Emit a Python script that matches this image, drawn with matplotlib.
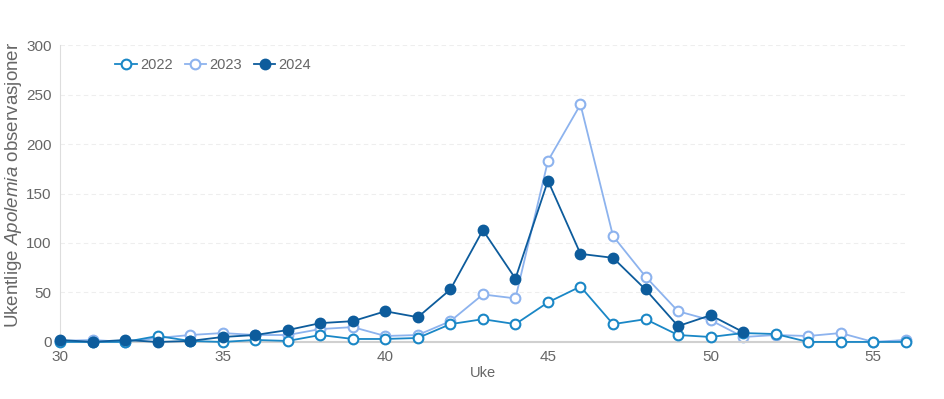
import matplotlib
matplotlib.use("Agg")
import matplotlib.pyplot as plt

plt.rcParams["font.family"] = ["Liberation Sans", "DejaVu Sans"]
plt.rcParams["mathtext.fontset"] = "custom"
plt.rcParams["mathtext.rm"] = "Liberation Sans"
plt.rcParams["mathtext.it"] = "Liberation Sans:italic"

weeks = list(range(30, 57))
y2022 = [0, 0, 0, 6, 1, 0, 2, 1, 7, 3, 3, 4, 18, 23, 18, 40, 56, 18, 23, 7, 5, 9, 8, 0, 0, 0, 0]
y2023 = [1, 2, 0, 4, 7, 9, 7, 7, 13, 15, 6, 7, 21, 48, 44, 183, 240, 107, 66, 31, 22, 5, 7, 6, 9, 0, 2]
weeks_2024 = list(range(30, 52))
y2024 = [2, 0, 2, 0, 1, 5, 7, 12, 19, 21, 31, 25, 53, 113, 64, 163, 89, 85, 53, 16, 27, 10]

C2022 = "#1a87c6"
C2023 = "#8db3ee"
C2024 = "#0d5c9c"
GREY = "#666666"

fig = plt.figure(figsize=(9.45, 3.99), dpi=100)
ax = fig.add_axes([0.0635, 0.143, 0.895, 0.744])

style = dict(lw=1.3, marker="o", ms=7, mew=1.5, clip_on=False)
ax.plot(weeks, y2022, color=C2022, mfc="white", mec=C2022, label="2022",
        zorder=3, **style)
ax.plot(weeks, y2023, color=C2023, mfc="white", mec=C2023, label="2023",
        zorder=2, **style)
ax.plot(weeks_2024, y2024, color=C2024, mfc=C2024, mec=C2024, label="2024",
        zorder=4, **style)

ax.set_xlim(30, 56)
ax.set_ylim(0, 300)
ax.set_xticks([30, 35, 40, 45, 50, 55])
ax.set_yticks(range(0, 301, 50))
ax.tick_params(length=0, labelsize=11, colors=GREY, pad=6)
ax.grid(axis="y", color="#eeeeee", lw=0.8, ls=(0, (4, 3)))
ax.set_axisbelow(True)
for s in ("top", "right"):
    ax.spines[s].set_visible(False)
ax.spines["left"].set_color("#dddddd")
ax.spines["bottom"].set_color("#d0d0d0")
ax.spines["bottom"].set_linewidth(1.5)

ax.set_xlabel("Uke", fontsize=10.5, color=GREY, labelpad=1)
ax.set_ylabel(r"Ukentlige $\it{Apolemia}$ observasjoner", fontsize=13.5,
              color=GREY)
ax.yaxis.set_label_coords(-0.043, 0.53)

ax.legend(loc="upper left", bbox_to_anchor=(0.05, 1.0), ncol=3, frameon=False,
          fontsize=10.5, handlelength=1.5, handletextpad=0.2, columnspacing=0.8,
          labelcolor=GREY)

fig.savefig("out.png", dpi=100)
